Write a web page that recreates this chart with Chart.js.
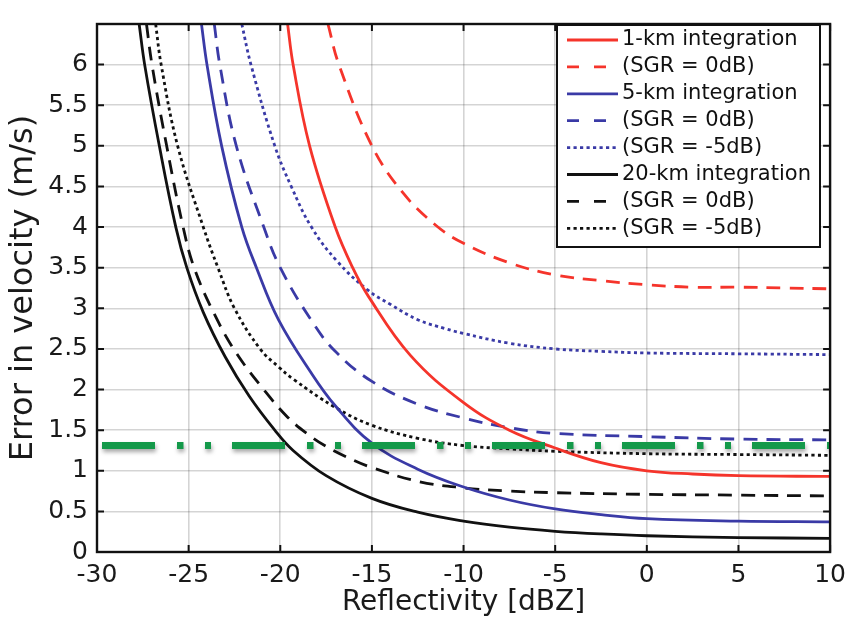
<!DOCTYPE html>
<html>
<head>
<meta charset="utf-8">
<script src="https://cdn.jsdelivr.net/npm/chart.js@4"></script>
<style>
  html, body { margin: 0; padding: 0; background: #fff; }
  #wrap { width: 854px; height: 621px; }
</style>
</head>
<body>
<div id="wrap"><canvas id="chart" width="854" height="621"></canvas></div>
<script>
// reflectivity (dBZ) / velocity error (m/s)
const red1kmX = [-19.6, -19.3, -18.4, -17.0, -16.05, -15.2, -12.9, -10, -7.5, -5, -2.5, 0, 2.5, 5, 10];
const red1kmY = [6.5, 6.0, 5.0, 4.0, 3.5, 3.15, 2.42, 1.84, 1.5, 1.28, 1.1, 1.0, 0.96, 0.94, 0.93];

const red1kmSgr0X = [-17.4, -16.8, -15.0, -13.3, -11.5, -10, -7.5, -5, -2.5, 0, 2.5, 5, 7.5, 10];
const red1kmSgr0Y = [6.5, 6.0, 5.0, 4.42, 4.02, 3.8, 3.56, 3.41, 3.34, 3.29, 3.26, 3.26, 3.25, 3.24];

const blue5kmX = [-24.3, -24.0, -23.2, -22.1, -21.3, -20.1, -18.3, -17, -15, -12.5, -10, -7.5, -5, -2.5, 0, 5, 10];
const blue5kmY = [6.5, 6.0, 5.0, 4.0, 3.5, 2.86, 2.2, 1.8, 1.34, 1.02, 0.8, 0.64, 0.53, 0.46, 0.41, 0.38, 0.37];

const blue5kmSgr0X = [-23.6, -23.3, -22.4, -20.9, -20.0, -18.3, -17, -15, -12.5, -10, -7.5, -5, 0, 5, 10];
const blue5kmSgr0Y = [6.5, 6.0, 5.0, 4.0, 3.5, 2.85, 2.47, 2.1, 1.82, 1.65, 1.53, 1.46, 1.42, 1.39, 1.38];

const blue5kmSgr5X = [-22.1, -21.6, -20.3, -19.4, -18.3, -16.9, -15.2, -14, -12.5, -11, -10, -7.5, -5, -2.5, 0, 5, 10];
const blue5kmSgr5Y = [6.5, 6.0, 5.0, 4.5, 4.0, 3.58, 3.22, 3.05, 2.86, 2.75, 2.69, 2.57, 2.5, 2.47, 2.45, 2.44, 2.43];

const black20kmX = [-27.7, -27.4, -26.6, -25.7, -25.1, -24.2, -23.0, -21.7, -20.3, -19.3, -17.5, -15, -12.5, -10, -7.5, -5, -2.5, 0, 5, 10];
const black20kmY = [6.5, 6.0, 5.0, 4.0, 3.5, 2.95, 2.4, 1.92, 1.5, 1.25, 0.94, 0.66, 0.49, 0.38, 0.305, 0.255, 0.222, 0.2, 0.178, 0.168];

const black20kmSgr0X = [-27.3, -27.0, -26.2, -25.3, -24.7, -23.6, -22.4, -20.8, -19.6, -18.5, -17.5, -16, -15, -12.5, -10, -7.5, -5, 0, 5, 10];
const black20kmSgr0Y = [6.5, 6.0, 5.0, 4.0, 3.5, 2.93, 2.45, 1.97, 1.66, 1.45, 1.3, 1.13, 1.04, 0.87, 0.79, 0.75, 0.73, 0.71, 0.7, 0.69];

const black20kmSgr5X = [-26.8, -26.5, -25.6, -24.2, -23.4, -22.5, -21.1, -20.1, -19.3, -17, -15, -12.5, -10, -7.5, -5, 0, 5, 10];
const black20kmSgr5Y = [6.5, 6.0, 5.0, 4.0, 3.5, 3.0, 2.5, 2.28, 2.13, 1.78, 1.56, 1.4, 1.31, 1.27, 1.24, 1.21, 1.2, 1.19];

const thresholdX = [-30, 10];
const thresholdY = [1.31, 1.31];

const xMin = -30, xMax = 10, xStep = 5;
const yMin = 0, yMax = 6.5, yStep = 0.5, yLastLabel = 6;

const FONT = "'DejaVu Sans', sans-serif";
const RED = "#f5342b", BLUE = "#3a3aa6", BLACK = "#111111", GREEN = "#14994a";

function pts(xs, ys) {
  return xs.map((x, i) => ({ x: x, y: ys[i] }));
}

function curve(label, xs, ys, color, dash) {
  return {
    label: label,
    data: pts(xs, ys),
    borderColor: color,
    borderWidth: 2.8,
    borderDash: dash,
    borderCapStyle: "butt",
    pointRadius: 0,
    fill: false,
    tension: 0.4
  };
}

const DASH = [14, 9];
const DOT = [3.2, 3.3];

const datasets = [
  curve("1-km integration", red1kmX, red1kmY, RED, []),
  curve("(SGR = 0dB)", red1kmSgr0X, red1kmSgr0Y, RED, DASH),
  curve("5-km integration", blue5kmX, blue5kmY, BLUE, []),
  curve("(SGR = 0dB)", blue5kmSgr0X, blue5kmSgr0Y, BLUE, DASH),
  curve("(SGR = -5dB)", blue5kmSgr5X, blue5kmSgr5Y, BLUE, DOT),
  curve("20-km integration", black20kmX, black20kmY, BLACK, []),
  curve("(SGR = 0dB)", black20kmSgr0X, black20kmSgr0Y, BLACK, DASH),
  curve("(SGR = -5dB)", black20kmSgr5X, black20kmSgr5Y, BLACK, DOT),
  {
    label: "",
    isThreshold: true,
    data: pts(thresholdX, thresholdY),
    borderColor: GREEN,
    borderWidth: 7,
    borderDash: [53, 22, 6.5, 21.5, 6, 21],
    borderDashOffset: 125,
    borderCapStyle: "butt",
    pointRadius: 0,
    fill: false,
    order: -1
  }
];

// box, inward ticks, shadow on the green line, legend
const framePlugin = {
  id: "frame",
  beforeDatasetDraw(chart, args) {
    if (chart.data.datasets[args.index].isThreshold) {
      const ctx = chart.ctx;
      ctx.save();
      ctx.shadowColor = "rgba(0,0,0,0.35)";
      ctx.shadowBlur = 4;
      ctx.shadowOffsetX = 1;
      ctx.shadowOffsetY = 3;
    }
  },
  afterDatasetDraw(chart, args) {
    if (chart.data.datasets[args.index].isThreshold) chart.ctx.restore();
  },
  afterDatasetsDraw(chart) {
    const { ctx, chartArea: a, scales } = chart;
    ctx.save();
    ctx.strokeStyle = "#111";
    ctx.lineWidth = 2;
    ctx.setLineDash([]);
    const len = 7;
    ctx.beginPath();
    scales.x.ticks.forEach((t) => {
      const px = scales.x.getPixelForValue(t.value);
      ctx.moveTo(px, a.bottom); ctx.lineTo(px, a.bottom - len);
      ctx.moveTo(px, a.top); ctx.lineTo(px, a.top + len);
    });
    scales.y.ticks.forEach((t) => {
      const py = scales.y.getPixelForValue(t.value);
      ctx.moveTo(a.left, py); ctx.lineTo(a.left + len, py);
      ctx.moveTo(a.right, py); ctx.lineTo(a.right - len, py);
    });
    ctx.stroke();
    ctx.lineWidth = 2.4;
    ctx.strokeRect(a.left, a.top, a.right - a.left, a.bottom - a.top);
    ctx.restore();
  },
  afterDraw(chart) {
    const ctx = chart.ctx;
    const items = chart.data.datasets.filter((d) => !d.isThreshold);
    const bx = 557, by = 25, bw = 263, bh = 222;
    const rowH = 26.9, firstRow = 40;
    ctx.save();
    ctx.fillStyle = "#fff";
    ctx.fillRect(bx, by, bw, bh);
    ctx.strokeStyle = "#111";
    ctx.lineWidth = 2;
    ctx.strokeRect(bx, by, bw, bh);
    ctx.font = "21px " + FONT;
    ctx.textBaseline = "middle";
    ctx.textAlign = "left";
    items.forEach((d, i) => {
      const y = firstRow + i * rowH;
      ctx.strokeStyle = d.borderColor;
      ctx.lineWidth = d.borderWidth;
      ctx.lineCap = "butt";
      const dash = d.borderDash.length && d.borderDash[0] > 5 ? [12, 15] : d.borderDash;
      ctx.setLineDash(dash);
      ctx.beginPath();
      ctx.moveTo(567, y);
      ctx.lineTo(618, y);
      ctx.stroke();
      ctx.setLineDash([]);
      ctx.fillStyle = "#111";
      ctx.fillText(d.label, 622, y);
    });
    ctx.restore();
  }
};

new Chart(document.getElementById("chart"), {
  type: "line",
  data: { datasets: datasets },
  plugins: [framePlugin],
  options: {
    responsive: false,
    devicePixelRatio: 1,
    animation: false,
    layout: { padding: { top: 9, right: 17, left: 0, bottom: 0 } },
    plugins: {
      legend: { display: false },
      tooltip: { enabled: false }
    },
    scales: {
      x: {
        type: "linear",
        min: xMin,
        max: xMax,
        ticks: {
          stepSize: xStep,
          padding: 8,
          color: "#1a1a1a",
          font: { family: FONT, size: 25 }
        },
        grid: { color: "rgba(0,0,0,0.17)", lineWidth: 1.6, drawTicks: false },
        border: { display: false },
        title: {
          display: true,
          text: "Reflectivity [dBZ]",
          color: "#1a1a1a",
          font: { family: FONT, size: 28 },
          padding: { top: 0, bottom: 1 }
        },
        afterFit(scale) { scale.height = 69; }
      },
      y: {
        type: "linear",
        min: yMin,
        max: yMax,
        ticks: {
          stepSize: yStep,
          padding: 9,
          color: "#1a1a1a",
          font: { family: FONT, size: 25 },
          callback: (v) => String(v)
        },
        afterBuildTicks(scale) {
          scale.ticks = scale.ticks.filter((t) => t.value <= yLastLabel);
        },
        grid: { color: "rgba(0,0,0,0.17)", lineWidth: 1.6, drawTicks: false },
        border: { display: false },
        title: {
          display: true,
          text: "Error in velocity (m/s)",
          color: "#1a1a1a",
          font: { family: FONT, size: 32 },
          padding: { top: 4, bottom: 0 }
        },
        afterFit(scale) { scale.width = 97; }
      }
    }
  }
});
</script>
</body>
</html>
